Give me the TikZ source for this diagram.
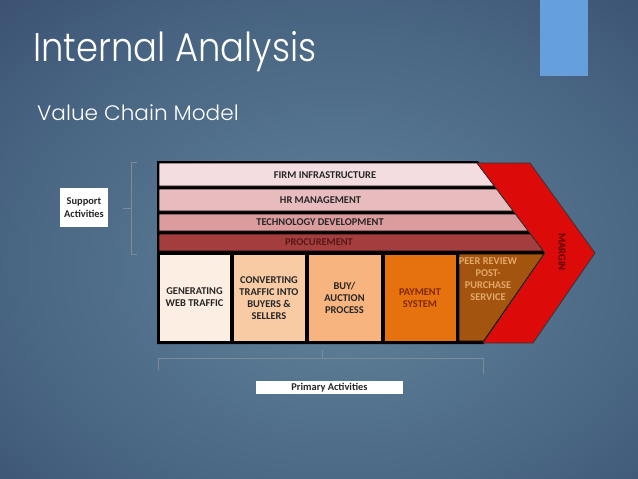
\documentclass[tikz,border=0pt]{standalone}
\usepackage{fontspec}
\setmainfont{Carlito}
\newfontfamily\titlefont{Poppins}[UprightFont=* Light]
\definecolor{bgin}{RGB}{98,132,156}
\definecolor{bgmid}{RGB}{70,98,128}
\definecolor{bgout}{RGB}{42,52,88}
\definecolor{cfirm}{HTML}{F3DDE0}
\definecolor{chr}{HTML}{E8BCBE}
\definecolor{ctech}{HTML}{DC9C9E}
\definecolor{cproc}{HTML}{A43E3E}
\definecolor{cgen}{HTML}{FDEEE3}
\definecolor{cconv}{HTML}{F9CBA5}
\definecolor{cbuy}{HTML}{F7B47F}
\definecolor{cpay}{HTML}{E6720F}
\definecolor{cpeer}{HTML}{A35510}
\definecolor{cchev}{HTML}{DD0A0A}
\definecolor{cblue}{HTML}{659FDC}
\definecolor{cbrack}{HTML}{7D8B99}
\pgfdeclareradialshading{bgshade}{\pgfpoint{2bp}{-4bp}}{color(0bp)=(bgin); color(28bp)=(bgmid); color(55bp)=(bgout); color(75bp)=(bgout)}
\begin{document}
\begin{tikzpicture}[x=1pt,y=-1pt,
  lab/.style={font=\bfseries\fontsize{10.4}{12}\selectfont, text=black!85, align=center, inner sep=0pt},
  boxline/.style={draw=black, line width=0.8pt},
  brack/.style={draw=cbrack, line width=0.6pt}]
\useasboundingbox (0,0) rectangle (638,479);
\shade[shading=bgshade] (0,0) rectangle (638,479);
\fill[cblue] (540,0) rectangle (588,76);
% titles
\node[anchor=base west, inner sep=0pt, text=white, font=\titlefont\fontsize{40}{48}\selectfont] (title) at (33,61) {\scalebox{0.885}[1]{Internal Analysis}};
\node[anchor=base west, inner sep=0pt, text=white, font=\titlefont\fontsize{21}{25}\selectfont] (subtitle) at (37,120) {\scalebox{1.03}[1]{Value Chain Model}};
% black backdrop
\fill[black] (157,161) -- (478,161) -- (547,253) -- (484,344) -- (157,344) -- cycle;
% support rows
\filldraw[fill=cfirm, boxline] (159,163) -- (477,163) -- (494.4,186) -- (159,186) -- cycle;
\filldraw[fill=chr, boxline] (159,189) -- (496.7,189) -- (513.3,211) -- (159,211) -- cycle;
\filldraw[fill=ctech, boxline] (159,214) -- (515.5,214) -- (528.4,231) -- (159,231) -- cycle;
\filldraw[fill=cproc, boxline] (159,234) -- (530.6,234) -- (543.5,251) -- (159,251) -- cycle;
% primary boxes
\filldraw[fill=cgen, boxline] (159,254) rectangle (230,341);
\filldraw[fill=cconv, boxline] (233,254) rectangle (305,341);
\filldraw[fill=cbuy, boxline] (308,254) rectangle (381,341);
\filldraw[fill=cpay, boxline] (384,254) rectangle (456,341);
\filldraw[fill=cpeer, boxline] (459,254) -- (544,254) -- (483.7,341) -- (459,341) -- cycle;
% chevron
\filldraw[fill=cchev, draw=black!80, line width=0.7pt] (477,163) -- (530,163) -- (595,253) -- (533,343) -- (483,343) -- (545,253) -- cycle;
% labels
\node[lab] (firm) at (325,175) {FIRM INFRASTRUCTURE};
\node[lab] (hr) at (320.5,200) {HR MANAGEMENT};
\node[lab] (tech) at (320,222.5) {TECHNOLOGY DEVELOPMENT};
\node[lab, text={rgb,255:red,90;green,22;blue,22}] (proc) at (319,242.5) {PROCUREMENT};
\node[lab] (gen) at (194.5,297) {GENERATING\\WEB TRAFFIC};
\node[lab] (conv) at (269,298) {CONVERTING\\TRAFFIC INTO\\BUYERS \&\\SELLERS};
\node[lab] (buy) at (344.5,297.5) {BUY/\\AUCTION\\PROCESS};
\node[lab, text={rgb,255:red,130;green,40;blue,0}] (pay) at (420,298) {PAYMENT\\SYSTEM};
\node[lab, text={rgb,255:red,228;green,168;blue,104}] (peer) at (488,279.5) {PEER REVIEW\\POST-\\PURCHASE\\SERVICE};
\node[lab, rotate=-90, font=\bfseries\fontsize{10.5}{12}\selectfont, text={rgb,255:red,90;green,0;blue,0}] (margin) at (562,252) {MARGIN};
% support activities box
\node[fill=white, minimum width=48pt, minimum height=39pt, inner sep=0pt, lab, font=\bfseries\fontsize{10.4}{13}\selectfont, text=black!85] (support) at (84,207.5) {Support\\Activities};
% primary activities box
\node[fill=white, minimum width=147pt, minimum height=13pt, inner sep=0pt, lab, text=black!85] (primary) at (329.5,387.5) {Primary Activities};
% left bracket
\coordinate (lt) at (131,162);
\coordinate (lb) at (131,254);
\coordinate (lm) at (131,208);
\draw[brack] ([xshift=6pt]lt) -- (lt) -- (lb) -- ([xshift=6pt]lb);
\draw[brack] (lm) -- ([xshift=-8pt]lm);
% bottom bracket
\coordinate (bl) at (158,358);
\coordinate (br) at (483,358);
\coordinate (bm) at (322,358);
\draw[brack] ([yshift=-12pt]bl) -- (bl) -- (br) -- ([yshift=-16pt]br);
\draw[brack] (bm) -- ([yshift=8pt]bm);
\end{tikzpicture}
\end{document}
